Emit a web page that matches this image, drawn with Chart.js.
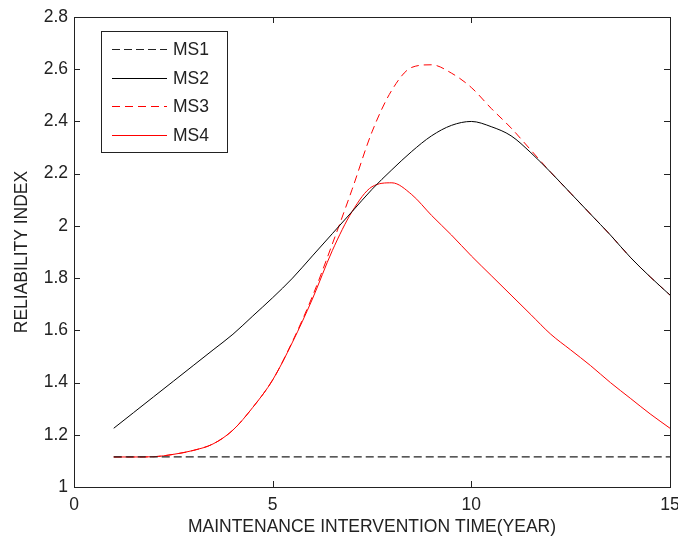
<!DOCTYPE html>
<html>
<head>
<meta charset="utf-8">
<script src="https://cdn.jsdelivr.net/npm/chart.js@4.4.1/dist/chart.umd.min.js"></script>
<style>
  html, body { margin: 0; padding: 0; background: #fff; overflow: hidden; }
  #wrap { width: 690px; height: 538px; }
</style>
</head>
<body>
<div id="wrap"><canvas id="mainChart"></canvas></div>
<script>
// --- Data ---
const years = [1, 1.5, 2, 2.5, 3, 3.5, 4, 4.5, 5, 5.5, 6, 6.5, 7, 7.5, 8,
               8.5, 9, 9.5, 10, 10.5, 11, 11.5, 12, 12.5, 13, 13.5, 14, 14.5, 15];

const ms1 = years.map(() => 1.115);

const ms2 = [1.225, 1.285, 1.345, 1.405, 1.465, 1.525, 1.585, 1.655, 1.725, 1.80,
             1.885, 1.97, 2.055, 2.14, 2.215, 2.285, 2.345, 2.385, 2.40, 2.38,
             2.345, 2.28, 2.205, 2.125, 2.045, 1.965, 1.88, 1.805, 1.735];

const ms3 = [1.115, 1.115, 1.116, 1.125, 1.14, 1.165, 1.218, 1.305, 1.41, 1.558,
             1.73, 1.93, 2.14, 2.36, 2.52, 2.607, 2.617, 2.585, 2.53, 2.45,
             2.375, 2.29, 2.205, 2.125, 2.045, 1.965, 1.88, 1.805, 1.735];

const ms4 = [1.115, 1.115, 1.116, 1.125, 1.14, 1.165, 1.218, 1.305, 1.41, 1.555,
             1.72, 1.905, 2.055, 2.15, 2.165, 2.12, 2.04, 1.965, 1.885, 1.81,
             1.735, 1.66, 1.585, 1.525, 1.465, 1.40, 1.34, 1.28, 1.225];

const xTitle = 'MAINTENANCE INTERVENTION TIME(YEAR)';
const yTitle = 'RELIABILITY INDEX';

const FONT = 'Liberation Sans, Arial, sans-serif';
Chart.defaults.font.family = FONT;
Chart.defaults.font.size = 17.5;
Chart.defaults.color = '#222';

const toPoints = (vals) => vals.map((v, i) => ({ x: years[i], y: v }));

// box around the plot, inward ticks, and the boxed legend
const frameAndLegend = {
    id: 'frameAndLegend',
    afterDatasetsDraw(chart) {
        const { ctx, chartArea: a, scales } = chart;
        ctx.save();
        ctx.strokeStyle = '#222';
        ctx.lineWidth = 1;
        ctx.setLineDash([]);
        ctx.strokeRect(a.left + 0.5, a.top + 0.5, a.right - a.left, a.bottom - a.top);

        const tl = 6;
        ctx.beginPath();
        scales.x.ticks.forEach(t => {
            const px = Math.round(scales.x.getPixelForValue(t.value)) + 0.5;
            ctx.moveTo(px, a.bottom); ctx.lineTo(px, a.bottom - tl);
            ctx.moveTo(px, a.top); ctx.lineTo(px, a.top + tl);
        });
        scales.y.ticks.forEach(t => {
            const py = Math.round(scales.y.getPixelForValue(t.value)) + 0.5;
            ctx.moveTo(a.left, py); ctx.lineTo(a.left + tl, py);
            ctx.moveTo(a.right, py); ctx.lineTo(a.right - tl, py);
        });
        ctx.stroke();

        // legend
        const bx = 101.5, by = 31.5, bw = 126, bh = 121;
        ctx.fillStyle = '#fff';
        ctx.fillRect(bx, by, bw, bh);
        ctx.strokeStyle = '#222';
        ctx.strokeRect(bx, by, bw, bh);
        ctx.font = '17.5px ' + FONT;
        ctx.textBaseline = 'middle';
        ctx.textAlign = 'left';
        chart.data.datasets.forEach((ds, i) => {
            const y = Math.round(49 + i * 28.6) + 0.5;
            ctx.strokeStyle = ds.borderColor;
            ctx.lineWidth = Math.max(ds.borderWidth, 1.2);
            ctx.setLineDash(ds.borderDash || []);
            ctx.beginPath();
            ctx.moveTo(112, y);
            ctx.lineTo(167, y);
            ctx.stroke();
            ctx.fillStyle = '#222';
            ctx.fillText(ds.label, 173, y + 1);
        });
        ctx.restore();
    }
};

const ctx = document.getElementById('mainChart').getContext('2d');
new Chart(ctx, {
    type: 'line',
    data: {
        datasets: [
            { label: 'MS1', data: toPoints(ms1), borderColor: '#222', borderWidth: 1.2, borderDash: [8, 4] },
            { label: 'MS2', data: toPoints(ms2), borderColor: '#000', borderWidth: 1 },
            { label: 'MS3', data: toPoints(ms3), borderColor: '#ff0000', borderWidth: 1, borderDash: [8, 5] },
            { label: 'MS4', data: toPoints(ms4), borderColor: '#ff0000', borderWidth: 1 }
        ]
    },
    options: {
        responsive: true,
        maintainAspectRatio: false,
        animation: false,
        layout: { padding: { left: 8, right: 20, top: 17, bottom: 0 } },
        elements: {
            point: { radius: 0, hoverRadius: 0 },
            line: { fill: false, cubicInterpolationMode: 'monotone' }
        },
        plugins: {
            legend: { display: false },
            tooltip: { enabled: false }
        },
        scales: {
            x: {
                type: 'linear',
                min: 0,
                max: 15,
                grid: { display: false, drawTicks: false },
                border: { display: false },
                ticks: { stepSize: 5, padding: 8, maxRotation: 0 },
                title: { display: true, text: xTitle, padding: { top: 0, bottom: 0 } },
                afterFit(scale) { scale.height = 51; }
            },
            y: {
                min: 1,
                max: 2.8,
                grid: { display: false, drawTicks: false },
                border: { display: false },
                ticks: {
                    stepSize: 0.2,
                    padding: 6,
                    callback: v => String(+Number(v).toFixed(1))
                },
                title: { display: true, text: yTitle, padding: { top: 4, bottom: 4 } },
                afterFit(scale) { scale.width = 66; }
            }
        }
    },
    plugins: [frameAndLegend]
});
</script>
</body>
</html>
